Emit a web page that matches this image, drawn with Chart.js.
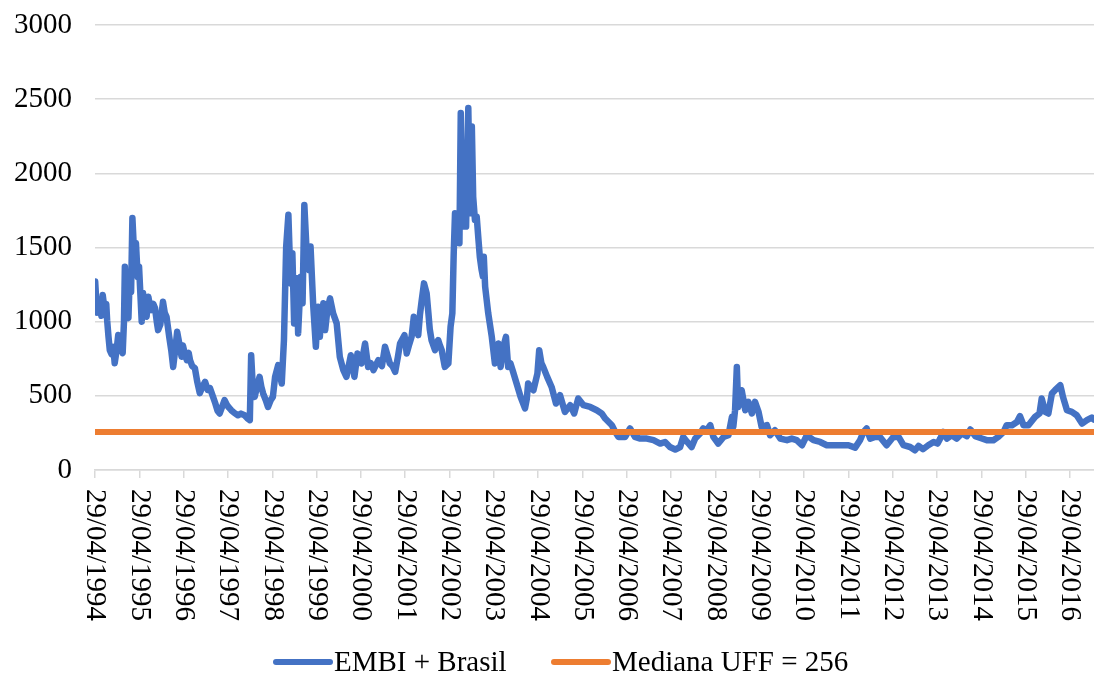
<!DOCTYPE html>
<html>
<head>
<meta charset="utf-8">
<script src="https://cdn.jsdelivr.net/npm/chart.js"></script>
<style>
  html, body { margin: 0; padding: 0; background: #fff; }
  #wrap { width: 1094px; height: 674px; }
</style>
</head>
<body>
<div id="wrap"><canvas id="lineChart" width="1094" height="674"></canvas></div>
<script>
// dates as decimal years
var embiDates = [
  1994.33, 1994.37, 1994.42, 1994.47, 1994.50, 1994.55, 1994.58, 1994.60, 1994.63, 1994.66,
  1994.70, 1994.74, 1994.77, 1994.81, 1994.85, 1994.90, 1994.95, 1994.98, 1995.00, 1995.04,
  1995.08, 1995.11, 1995.14, 1995.17, 1995.21, 1995.25, 1995.29, 1995.32, 1995.38, 1995.41,
  1995.45, 1995.49, 1995.53, 1995.57, 1995.60, 1995.64, 1995.68, 1995.72, 1995.75, 1995.80,
  1995.86, 1995.90, 1995.94, 1996.00, 1996.05, 1996.09, 1996.14, 1996.18, 1996.23, 1996.28,
  1996.31, 1996.35, 1996.40, 1996.44, 1996.47, 1996.52, 1996.58, 1996.63, 1996.69, 1996.75,
  1996.81, 1996.87, 1996.92, 1996.99, 1997.04, 1997.09, 1997.14, 1997.20, 1997.25, 1997.30,
  1997.35, 1997.40, 1997.47, 1997.55, 1997.62, 1997.70, 1997.76, 1997.82, 1997.85, 1997.88,
  1997.93, 1997.98, 1998.04, 1998.08, 1998.12, 1998.18, 1998.23, 1998.29, 1998.34, 1998.39,
  1998.46, 1998.50, 1998.54, 1998.59, 1998.64, 1998.69, 1998.74, 1998.78, 1998.82, 1998.85,
  1998.88, 1998.91, 1998.97, 1999.01, 1999.05, 1999.10, 1999.16, 1999.19, 1999.25, 1999.31,
  1999.36, 1999.40, 1999.44, 1999.48, 1999.52, 1999.57, 1999.63, 1999.70, 1999.78, 1999.85,
  1999.93, 2000.00, 2000.05, 2000.10, 2000.18, 2000.25, 2000.34, 2000.42, 2000.49, 2000.55,
  2000.61, 2000.72, 2000.80, 2000.87, 2000.98, 2001.04, 2001.10, 2001.16, 2001.21, 2001.31,
  2001.36, 2001.42, 2001.47, 2001.52, 2001.57, 2001.62, 2001.66, 2001.70, 2001.75, 2001.81,
  2001.85, 2001.88, 2001.92, 2002.00, 2002.04, 2002.07, 2002.11, 2002.15, 2002.22, 2002.30,
  2002.35, 2002.39, 2002.42, 2002.45, 2002.50, 2002.55, 2002.58, 2002.62, 2002.68, 2002.70,
  2002.75, 2002.79, 2002.83, 2002.86, 2002.90, 2002.94, 2002.98, 2003.01, 2003.05, 2003.08,
  2003.10, 2003.13, 2003.20, 2003.28, 2003.35, 2003.43, 2003.48, 2003.54, 2003.60, 2003.65,
  2003.70, 2003.75, 2003.84, 2003.93, 2004.03, 2004.07, 2004.10, 2004.16, 2004.22, 2004.31,
  2004.35, 2004.40, 2004.44, 2004.53, 2004.63, 2004.73, 2004.82, 2004.93, 2005.05, 2005.14,
  2005.23, 2005.35, 2005.50, 2005.65, 2005.76, 2005.84, 2005.99, 2006.06, 2006.14, 2006.29,
  2006.40, 2006.51, 2006.63, 2006.78, 2006.93, 2007.08, 2007.19, 2007.30, 2007.42, 2007.53,
  2007.60, 2007.69, 2007.79, 2007.87, 2007.98, 2008.05, 2008.13, 2008.21, 2008.28, 2008.39,
  2008.51, 2008.62, 2008.70, 2008.73, 2008.77, 2008.81, 2008.84, 2008.92, 2009.00, 2009.07,
  2009.15, 2009.22, 2009.30, 2009.37, 2009.49, 2009.56, 2009.67, 2009.79, 2009.94, 2010.05,
  2010.16, 2010.28, 2010.39, 2010.54, 2010.69, 2010.84, 2010.99, 2011.14, 2011.33, 2011.48,
  2011.59, 2011.67, 2011.74, 2011.82, 2011.93, 2012.04, 2012.19, 2012.34, 2012.46, 2012.57,
  2012.72, 2012.83, 2012.91, 2013.01, 2013.13, 2013.25, 2013.34, 2013.40, 2013.47, 2013.55,
  2013.66, 2013.77, 2013.89, 2014.00, 2014.08, 2014.19, 2014.34, 2014.45, 2014.60, 2014.71,
  2014.83, 2014.90, 2015.02, 2015.13, 2015.20, 2015.28, 2015.39, 2015.54, 2015.64, 2015.69,
  2015.77, 2015.84, 2015.92, 2015.99, 2016.11, 2016.17, 2016.26, 2016.37, 2016.48, 2016.60,
  2016.71, 2016.82, 2016.87
];
var embiValues = [
  1270, 1060, 1150, 1040, 1180, 1060, 1120, 1010, 900, 808,
  780, 830, 720, 800, 910, 830, 788, 1000, 1371, 1100,
  1024, 1303, 1200, 1699, 1450, 1530, 1300, 1371, 1000, 1193,
  1080, 1033, 1168, 1100, 1078, 1120, 1092, 1000, 943, 980,
  1134, 1060, 1033, 900, 800, 695, 820, 932, 850, 763,
  840, 788, 740, 790, 741, 700, 687, 600, 518, 560,
  594, 540, 552, 493, 450, 400, 381, 430, 471, 440,
  420, 403, 385, 369, 380, 369, 350, 336, 774, 600,
  493, 560, 628, 560, 516, 470, 425, 470, 493, 628,
  707, 640, 583, 876, 1506, 1720, 1258, 1461, 988, 1200,
  1292, 921, 1303, 1124, 1787, 1483, 1348, 1506, 1112, 831,
  1101, 898, 1050, 1124, 943, 1080, 1157, 1056, 988, 763,
  673, 628, 700, 774, 628, 786, 718, 853, 695, 720,
  673, 741, 700, 831, 718, 700, 662, 760, 853, 909,
  786, 850, 898, 1033, 980, 909, 1050, 1146, 1258, 1191,
  1056, 950, 876, 808, 860, 876, 840, 808, 695, 718,
  966, 1056, 1450, 1731, 1686, 1529, 2406, 1641, 2069, 1641,
  2440, 1731, 2316, 1843, 1686, 1708, 1551, 1438, 1350, 1303,
  1438, 1236, 1056, 898, 718, 853, 695, 831, 898, 695,
  720, 673, 583, 493, 415, 480, 583, 560, 538, 651,
  808, 720, 695, 628, 560, 448, 504, 392, 437, 381,
  482, 437, 425, 403, 381, 347, 302, 260, 223, 223,
  280, 223, 212, 212, 201, 178, 189, 155, 138, 155,
  223, 189, 155, 212, 246, 280, 268, 302, 223, 178,
  223, 234, 358, 290, 403, 695, 425, 538, 403, 459,
  381, 459, 392, 290, 302, 234, 268, 212, 201, 212,
  201, 167, 234, 201, 189, 167, 167, 167, 167, 151,
  201, 257, 280, 212, 223, 223, 167, 223, 223, 167,
  155, 133, 162, 140, 167, 189, 178, 212, 257, 212,
  234, 212, 246, 228, 273, 228, 212, 201, 201, 223,
  257, 302, 302, 324, 363, 302, 302, 358, 381, 482,
  392, 381, 516, 538, 572, 493, 403, 392, 369, 313,
  336, 354, 340
];
var medianValue = 256;
var tickYears = [1994, 1995, 1996, 1997, 1998, 1999, 2000, 2001, 2002, 2003, 2004, 2005,
                 2006, 2007, 2008, 2009, 2010, 2011, 2012, 2013, 2014, 2015, 2016];
var tickLabels = tickYears.map(function (y) { return '29/04/' + y; });
var seriesNames = ['EMBI + Brasil', 'Mediana UFF = 256'];

var xMin = 1994.326, xMax = 2016.87;
var tickOffset = 0.326; // 29 April as a fraction of the year
var serif = '"Liberation Serif", "Times New Roman", serif';
var blue = '#4472C4', orange = '#ED7D31', grid = '#d9d9d9';

var embiPoints = [];
for (var i = 0; i < embiDates.length; i++) {
  embiPoints.push({ x: embiDates[i], y: embiValues[i] });
}

// rotated date labels (top to bottom) and the legend
var customText = {
  id: 'customText',
  afterDraw: function (chart) {
    var ctx = chart.ctx;
    var xs = chart.scales.x;
    ctx.save();
    ctx.fillStyle = '#000';
    ctx.font = '29px ' + serif;
    for (var i = 0; i < tickYears.length; i++) {
      var px = xs.getPixelForValue(tickYears[i] + tickOffset);
      ctx.save();
      ctx.translate(px, 489);
      ctx.rotate(Math.PI / 2);
      ctx.textAlign = 'left';
      ctx.textBaseline = 'middle';
      ctx.fillText(tickLabels[i], 0, 0);
      ctx.restore();
    }
    // legend
    var ly = 662;
    var items = [
      { x: 276, color: blue, text: seriesNames[0] },
      { x: 554, color: orange, text: seriesNames[1] }
    ];
    items.forEach(function (it) {
      ctx.strokeStyle = it.color;
      ctx.lineWidth = 6;
      ctx.lineCap = 'round';
      ctx.beginPath();
      ctx.moveTo(it.x, ly);
      ctx.lineTo(it.x + 54, ly);
      ctx.stroke();
      ctx.textAlign = 'left';
      ctx.textBaseline = 'middle';
      ctx.fillText(it.text, it.x + 58, ly + 1);
    });
    ctx.restore();
  }
};

var ctx = document.getElementById('lineChart').getContext('2d');
var myChart = new Chart(ctx, {
  type: 'line',
  data: {
    datasets: [{
      label: seriesNames[0],
      data: embiPoints,
      borderColor: blue,
      backgroundColor: blue,
      borderWidth: 6.5,
      borderJoinStyle: 'round',
      borderCapStyle: 'round',
      pointRadius: 0,
      tension: 0,
      order: 1
    },
    {
      label: seriesNames[1],
      data: [{ x: xMin, y: medianValue }, { x: xMax, y: medianValue }],
      borderColor: orange,
      backgroundColor: orange,
      borderWidth: 6,
      pointRadius: 0,
      order: 0
    }]
  },
  options: {
    responsive: false,
    animation: false,
    layout: { padding: { top: 25, right: 0, bottom: 0, left: 0 } },
    plugins: {
      legend: { display: false },
      tooltip: { enabled: false }
    },
    scales: {
      x: {
        type: 'linear',
        min: xMin,
        max: xMax,
        afterBuildTicks: function (scale) {
          scale.ticks = tickYears.map(function (y) { return { value: y + tickOffset }; });
        },
        afterFit: function (scale) {
          scale.height = 204;
          scale.paddingLeft = 0;
          scale.paddingRight = 0;
        },
        ticks: { display: false },
        grid: { drawOnChartArea: false, drawTicks: true, tickLength: 8, color: grid, lineWidth: 1.5 },
        border: { display: true, color: grid, width: 1.5 }
      },
      y: {
        min: 0,
        max: 3000,
        afterFit: function (scale) {
          scale.width = 95;
          scale.paddingTop = 0;
          scale.paddingBottom = 0;
        },
        ticks: {
          stepSize: 500,
          padding: 23,
          color: '#000',
          font: { family: serif, size: 29 },
          callback: function (v) { return String(v); }
        },
        grid: { color: grid, lineWidth: 1.5, drawTicks: false },
        border: { display: false }
      }
    }
  },
  plugins: [customText]
});
</script>
</body>
</html>
